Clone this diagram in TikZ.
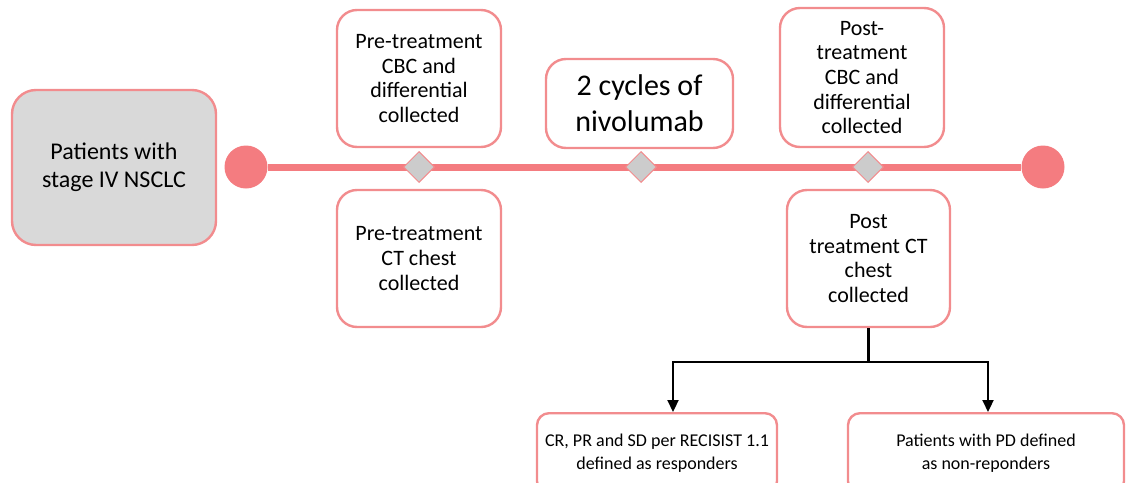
\documentclass[tikz,border=0pt]{standalone}
\usepackage{fontspec}
\setmainfont{Carlito}
\usetikzlibrary{shapes.geometric}
\usetikzlibrary{arrows.meta}

\definecolor{pinkline}{RGB}{244,124,128}
\definecolor{pinkedge}{RGB}{242,140,142}
\definecolor{boxgray}{RGB}{217,217,217}
\definecolor{diagray}{RGB}{204,204,204}

\tikzset{
  stepbox/.style={draw=pinkedge, line width=2.4pt, rounded corners=20pt, fill=white,
    align=center, inner sep=0pt, font=\fontsize{22}{24.7}\selectfont},
  endcirc/.style={circle, fill=pinkline, minimum size=43pt, inner sep=0pt},
  milestone/.style={diamond, draw=pinkedge, line width=1pt, fill=diagray,
    minimum size=31pt, inner sep=0pt},
  outcome/.style={draw=pinkedge, line width=2.4pt, rounded corners=12pt, fill=white,
    align=center, inner sep=0pt, font=\fontsize{18}{23}\selectfont},
  branch/.style={line width=2.2pt, -{Triangle[length=12pt, width=11pt]}},
}

\begin{document}
\begin{tikzpicture}[x=1pt, y=-1pt]

  \useasboundingbox (0,0) rectangle (1129,482);

  \node [stepbox, fill=boxgray, minimum width=204pt, minimum height=155pt,
         rounded corners=24pt, font=\fontsize{24}{28}\selectfont]
        (patients) at (114,167.5) {Patients with\\stage IV NSCLC};

  \node [endcirc] (start) at (246,167) {};
  \node [endcirc] (stop) at (1043,167) {};
  \draw [pinkline, line width=7pt] (start) -- (stop);

  \node [milestone] (pre) at (419,167) {};
  \node [milestone] (cycles) at (641,167) {};
  \node [milestone] (post) at (868,167) {};

  \node [stepbox, minimum width=164pt, minimum height=137pt]
        (precbc) at (419,78.5) {Pre-treatment\\CBC and\\differential\\collected};
  \node [stepbox, minimum width=187pt, minimum height=89pt,
         font=\fontsize{30}{36}\selectfont]
        (nivo) at (639.5,103.5) {2 cycles of\\nivolumab};
  \node [stepbox, minimum width=164pt, minimum height=139pt]
        (postcbc) at (862,77.5) {Post-\\treatment\\CBC and\\differential\\collected};

  \node [stepbox, minimum width=164pt, minimum height=137pt]
        (prect) at (419,258.5) {Pre-treatment\\CT chest\\collected};
  \node [stepbox, minimum width=163pt, minimum height=137pt]
        (postct) at (868.5,258.5) {Post\\treatment CT\\chest\\collected};

  \node [outcome, minimum width=240pt, minimum height=80pt, anchor=north]
        (resp) at (657,412) {CR, PR and SD per RECISIST 1.1\\defined as responders};
  \node [outcome, minimum width=276pt, minimum height=80pt, anchor=north]
        (nonresp) at (986,412) {Patients with PD defined\\as non-reponders};

  \coordinate (split) at (postct.south |- 0,362);
  \draw [line width=2.2pt] (postct.south) -- (split);
  \draw [branch] (split) -| (resp.north -| 673,0);
  \draw [branch] (split) -| (nonresp.north -| 988,0);

\end{tikzpicture}
\end{document}
